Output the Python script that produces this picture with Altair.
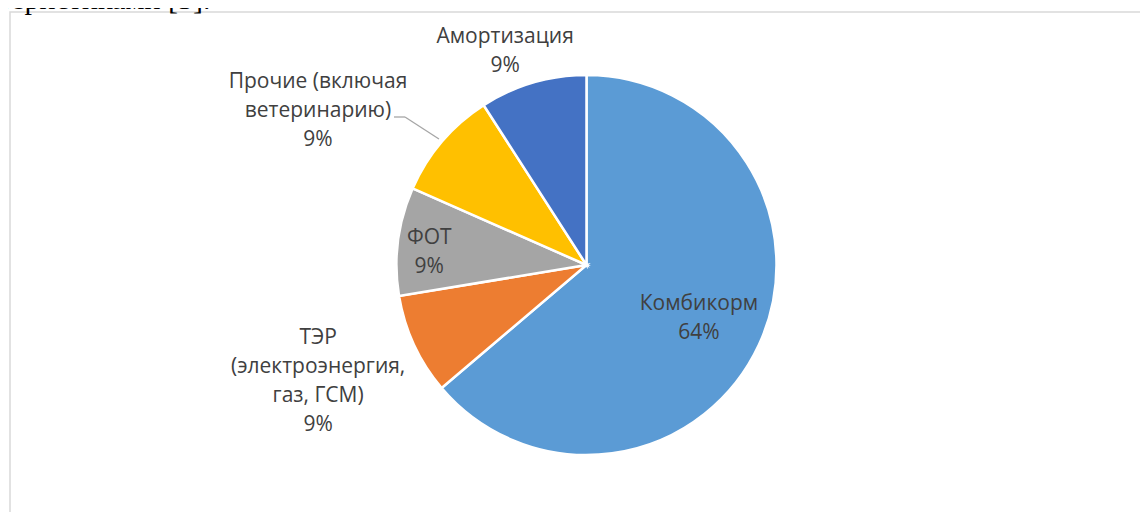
import math
import altair as alt
import pandas as pd

# ---- data ----
categories = ["Комбикорм", "ТЭР (электроэнергия, газ, ГСМ)", "ФОТ",
              "Прочие (включая ветеринарию)", "Амортизация"]
label_lines = ["Комбикорм", "ТЭР\n(электроэнергия,\nгаз, ГСМ)", "ФОТ",
               "Прочие (включая\nветеринарию)", "Амортизация"]
values = [63.8, 8.6, 9.2, 9.3, 9.1]
colors = ["#5B9BD5", "#ED7D31", "#A5A5A5", "#FFC000", "#4472C4"]

df = pd.DataFrame({
    "idx": list(range(len(categories))),
    "category": categories,
    "lbl": label_lines,
    "value": values,
})
total = sum(values)

W, H = 1132, 504
CX, CY = 578.5, 257
R = 190
TEXT_COLOR = "#404040"
FONT = "Open Sans"
LH = 29

theta_scale = alt.Scale(domain=[0, total], range=[0, 2 * math.pi])

base = alt.Chart(df)

pie = base.mark_arc(outerRadius=R, stroke="white", strokeWidth=2.5).encode(
    theta=alt.Theta("value:Q", stack=True, scale=theta_scale),
    order=alt.Order("idx:Q"),
    color=alt.Color("category:N", scale=alt.Scale(domain=categories, range=colors), legend=None),
    x=alt.value(CX),
    y=alt.value(CY),
)

lab_base = base.transform_joinaggregate(
    tot="sum(value)"
).transform_window(
    cum="sum(value)", sort=[alt.SortField("idx")], frame=[None, 0]
).transform_calculate(
    mid="datum.cum - datum.value / 2",
    txt="datum.lbl + '\\n' + format(datum.value / datum.tot, '.0%')",
)

# per-label placement (radius, dx, dy, number of lines)
placements = {
    0: (125, -1, 1.4, 2),
    1: (292, -3.4, -6.5, 4),
    2: (157, -1.5, 6.7, 2),
    3: (300, -40.4, 40.8, 3),
    4: (228, -17.1, 5.7, 2),
}

layers = []
for i, (r, dx, dy, n) in placements.items():
    layers.append(
        lab_base.transform_filter(f"datum.idx == {i}").mark_text(
            radius=r, dx=dx, dy=dy - (n - 1) / 2 * LH, font=FONT, fontSize=21,
            color=TEXT_COLOR, lineBreak="\n", lineHeight=LH,
            align="center", baseline="middle",
        ).encode(
            theta=alt.Theta("mid:Q", stack=None, scale=theta_scale),
            text="txt:N",
            x=alt.value(CX),
            y=alt.value(CY),
        )
    )

# leader line for "Прочие"
cum_before = sum(values[:3])
mid_ang = (cum_before + values[3] / 2) / total * 2 * math.pi
ex = CX + 194 * math.sin(mid_ang)
ey = CY - 194 * math.cos(mid_ang)
one = alt.Chart(pd.DataFrame({"a": [0]}))
leader1 = one.mark_rule(color="#A6A6A6", strokeWidth=1.3).encode(
    x=alt.value(386), x2=alt.value(397), y=alt.value(109), y2=alt.value(109))
leader2 = one.mark_rule(color="#A6A6A6", strokeWidth=1.3).encode(
    x=alt.value(397), x2=alt.value(ex), y=alt.value(109), y2=alt.value(ey))

frame = one.mark_rect(fill="transparent", stroke="#D9D9D9", strokeWidth=1.5).encode(
    x=alt.value(2), x2=alt.value(1300), y=alt.value(4), y2=alt.value(700))

top_text = one.mark_text(text="теристиками [5].", font="Liberation Serif", fontSize=30,
                         align="left", baseline="alphabetic", color="black").encode(
    x=alt.value(-10), y=alt.value(0.5))

chart = alt.layer(frame, top_text, pie, leader1, leader2, *layers).properties(
    width=W, height=H,
    autosize=alt.AutoSizeParams(type="none"),
    padding=0,
).configure_view(strokeWidth=0)

chart.save("out.html", embed_options={"renderer": "svg", "actions": False})
